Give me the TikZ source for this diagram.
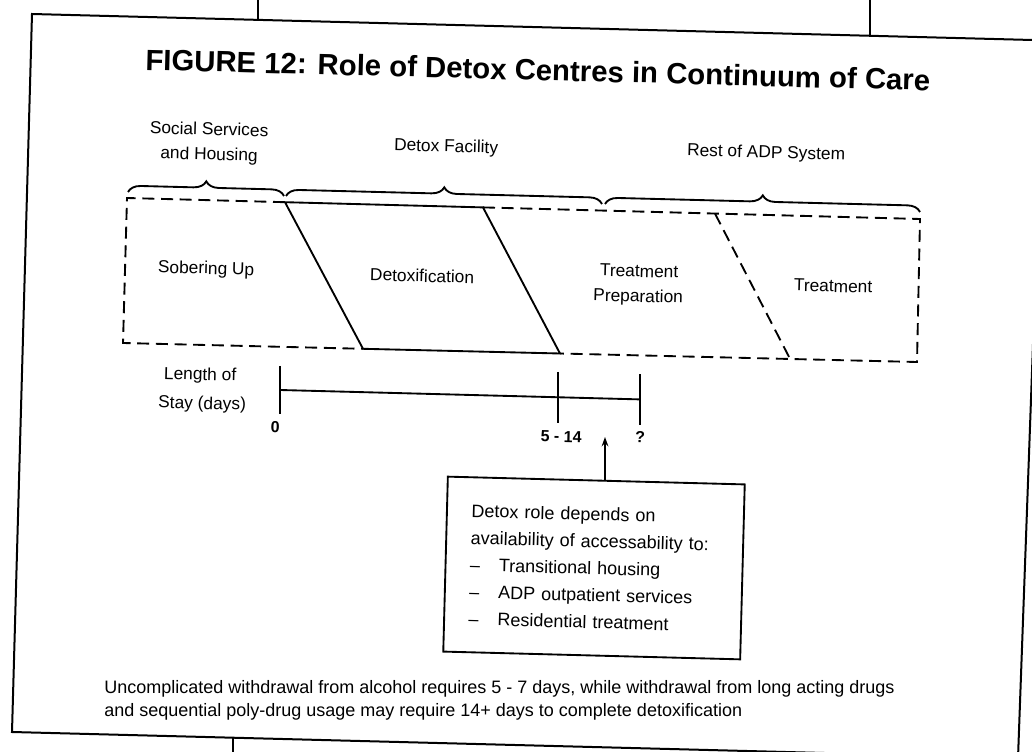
\documentclass[tikz,border=0pt]{standalone}
\usepackage{fontspec}
\setmainfont{Liberation Sans}
\usetikzlibrary{decorations.pathreplacing,arrows.meta}
\begin{document}
\begin{tikzpicture}[x=0.75pt,y=-0.75pt,
  tilt/.style={rotate=-1.5},
  lbl/.style={tilt, inner sep=0pt, anchor=base, font=\fontsize{13}{15}\selectfont},
  numlbl/.style={tilt, inner sep=0pt, anchor=base, font=\fontsize{12}{14}\selectfont\bfseries},
  note/.style={inner sep=0pt, anchor=north west, align=left, font=\fontsize{13.5}{17.25}\selectfont},
  framest/.style={line width=1.5pt},
  solidln/.style={line width=1.4pt},
  dashln/.style={line width=1.4pt, dash pattern=on 9pt off 5pt},
  bracest/.style={decorate, decoration={brace, amplitude=9.5pt}, line width=1.4pt},
  boxst/.style={draw, line width=1.4pt, tilt, minimum width=222.75pt, minimum height=131.25pt,
    text width=186pt, inner xsep=18pt, inner ysep=0pt, align=left,
    font=\fontsize{13.5}{20.25}\selectfont},
  arrowst/.style={line width=1.2pt, -{Stealth[length=7pt,width=5pt]}}
]
\useasboundingbox (0,0) rectangle (1032,752);
\clip (0,0) rectangle (1032,752);
\fill[white] (0,0) rectangle (1032,752);

% page frame
\coordinate (fTL) at (32,14);
\coordinate (fTR) at (1044,40.3);
\coordinate (fBR) at (1018,758);
\coordinate (fBL) at (12,732);
\draw[framest] (fTL) -- (fTR) -- (fBR) -- (fBL) -- cycle;
\draw[framest] (258,0) -- (258,19.9);
\draw[framest] (870,0) -- (870,35.8);
\draw[framest] (233,737.7) -- (233,752);

% title
\node[tilt, inner sep=0pt, anchor=base west, font=\fontsize{22}{26}\selectfont\bfseries] (title) at (145,70)
  {FIGURE 12: Role of Detox Centres in Continuum of Care};

% headings
\node[lbl] (ss1) at (209,135) {Social Services};
\node[lbl] (ss2) at (209,160) {and Housing};
\node[lbl] (df) at (446,152) {Detox Facility};
\node[lbl] (adp) at (766,158) {Rest of ADP System};

% braces
\draw[bracest] (128,192) -- (284,196);
\draw[bracest] (286,196) -- (602,204);
\draw[bracest] (605,204) -- (920,212);

% band
\coordinate (TL) at (127,198);
\coordinate (TR) at (920,219);
\coordinate (BR) at (917,362);
\coordinate (BL) at (123,343);
\coordinate (pTL) at (285,202.2);
\coordinate (pTR) at (483,207.4);
\coordinate (pBR) at (560,353.5);
\coordinate (pBL) at (363,348.8);
\coordinate (dT) at (715,213.6);
\coordinate (dB) at (790,358.8);

\draw[dashln] (pTL) -- (TL) -- (BL) -- (pBL);
\draw[dashln] (pTR) -- (TR) -- (BR) -- (pBR);
\draw[solidln] (pTL) -- (pTR) -- (pBR) -- (pBL) -- cycle;
\draw[dashln] (dT) -- (dB);

\node[lbl] (sob) at (206,274) {Sobering Up};
\node[lbl] (detox) at (422,282) {Detoxification};
\node[lbl] (tp1) at (639,277) {Treatment};
\node[lbl] (tp2) at (638,302) {Preparation};
\node[lbl] (tr) at (833,292) {Treatment};

% timeline
\node[lbl] (len1) at (200,380) {Length of};
\node[lbl] (len2) at (202,409) {Stay (days)};
\coordinate (t0) at (280,390);
\coordinate (t1) at (558,397.2);
\coordinate (t2) at (640,399.4);
\draw[solidln] (t0) -- (t2);
\draw[solidln] ([yshift=18]t0) -- ([yshift=-18]t0);
\draw[solidln] ([yshift=19]t1) -- ([yshift=-19]t1);
\draw[solidln] ([yshift=19]t2) -- ([yshift=-19]t2);
\node[numlbl] (n0) at (275,433) {0};
\node[numlbl] (n1) at (561,442) {5 - 14};
\node[numlbl] (n2) at (640,443) {?};

% note box
\node[boxst] (box) at (594,568) {Detox role depends on\\
availability of accessability to:\\
\makebox[21.75pt][l]{\textendash}Transitional housing\\
\makebox[21.75pt][l]{\textendash}ADP outpatient services\\
\makebox[21.75pt][l]{\textendash}Residential treatment};
\coordinate (tip) at (605,437);
\draw[arrowst] (box.north -| tip) -- (tip);

% footnote
\node[note] (fn) at (104,680) {Uncomplicated withdrawal from alcohol requires 5 - 7 days, while withdrawal from long acting drugs\\
and sequential poly-drug usage may require 14+ days to complete detoxification};
\end{tikzpicture}
\end{document}
